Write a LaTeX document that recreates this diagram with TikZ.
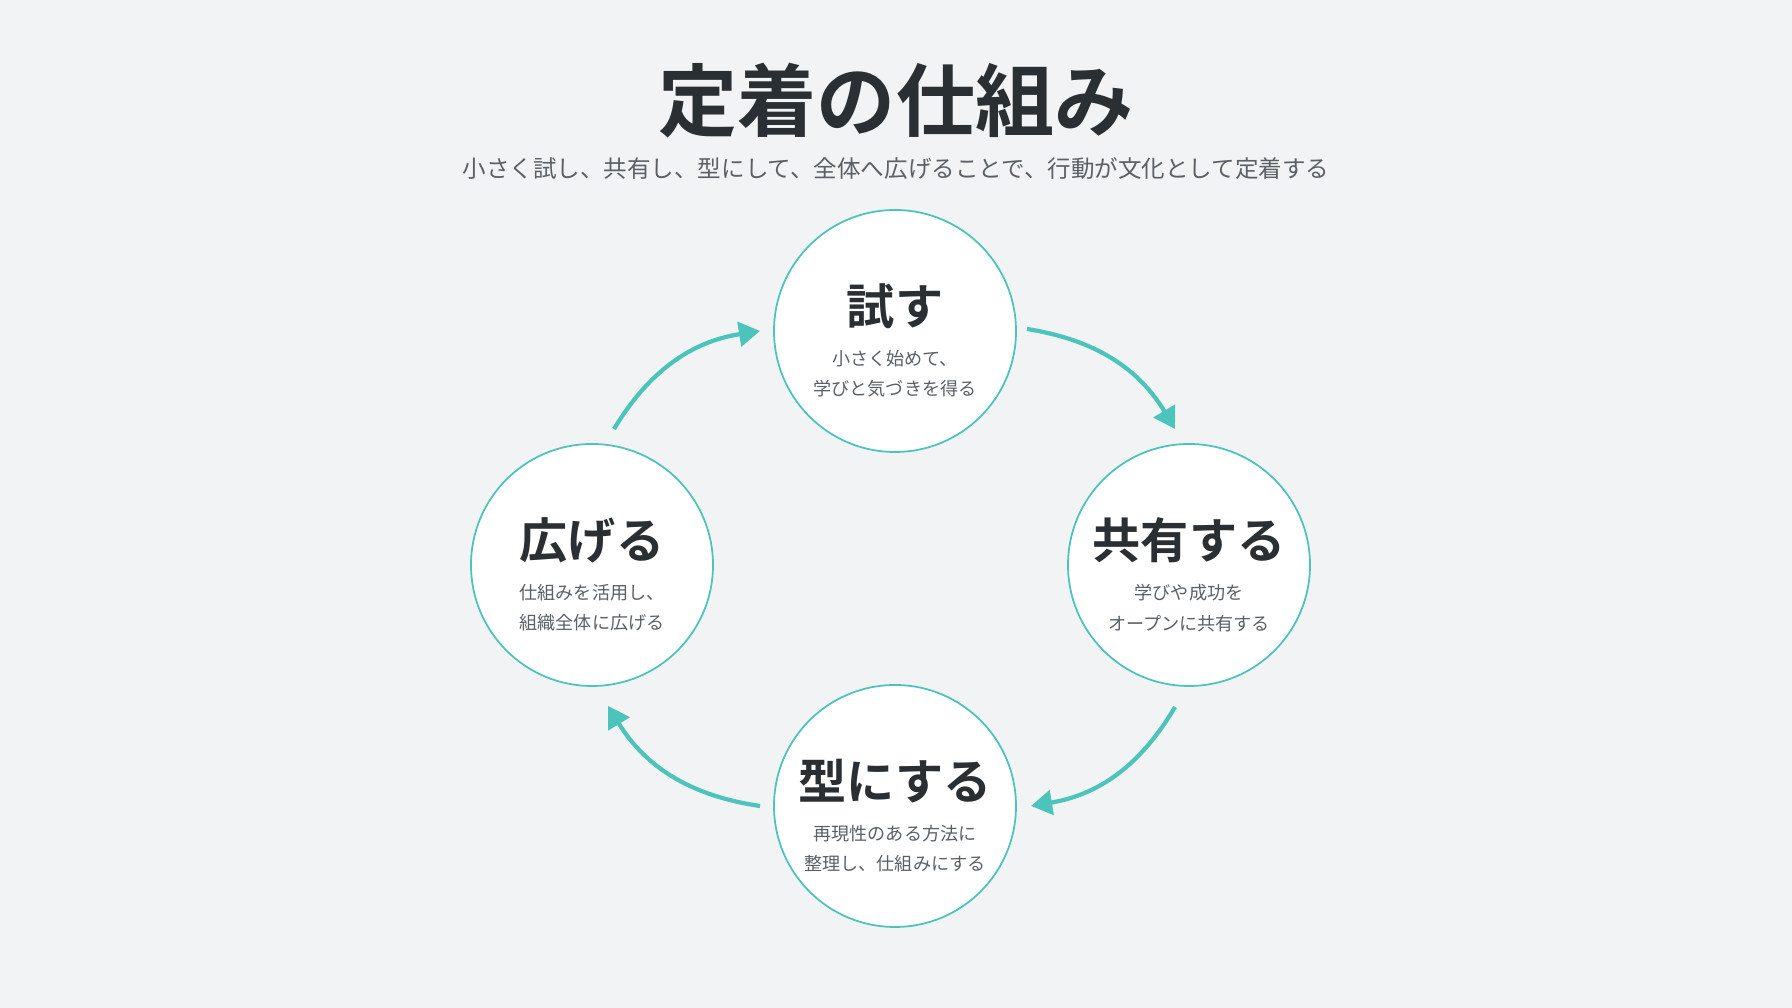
\documentclass[tikz,border=0pt]{standalone}
\usepackage{fontspec}
\newfontfamily\jp{Noto Sans CJK JP}
\newfontfamily\jpb{Noto Sans CJK JP Bold}
\usetikzlibrary{arrows.meta}
\definecolor{bgc}{HTML}{F1F3F4}
\definecolor{teal}{HTML}{4CC4BC}
\definecolor{ink}{HTML}{2A2F33}
\definecolor{sub}{HTML}{5A6066}
\tikzset{
  stage/.style={circle,draw=teal,line width=0.5pt,fill=white,minimum size=2.42cm,inner sep=0pt},
  head/.style={font=\jpb\fontsize{13.7}{15}\selectfont,text=ink},
  note/.style={font=\jp\fontsize{5.15}{8.6}\selectfont,text=sub,align=center},
  flow/.style={draw=teal,line width=1.2pt,-{Triangle[length=6pt,width=7pt]}}
}
\begin{document}
\begin{tikzpicture}
  \fill[bgc] (0,0) rectangle (17.92,10.08);
  \useasboundingbox (0,0) rectangle (17.92,10.08);
  \node[font=\jpb\fontsize{22.5}{24}\selectfont,text=ink] (title) at (8.96,9.07) {定着の仕組み};
  \node[font=\jp\fontsize{6.7}{8}\selectfont,text=sub] (subtitle) at (8.96,8.39) {小さく試し、共有し、型にして、全体へ広げることで、行動が文化として定着する};
  \begin{scope}
    \node[stage] (try) at (8.95,6.77) {};
    \node[stage] (share) at (11.89,4.43) {};
    \node[stage] (form) at (8.95,2.02) {};
    \node[stage] (spread) at (5.92,4.43) {};
  \end{scope}
  \node[head] (tryh) at (8.95,7.02) {試す};
  \node[note] (tryn) at (8.95,6.34) {小さく始めて、\\学びと気づきを得る};
  \node[head] (shareh) at (11.89,4.68) {共有する};
  \node[note] (sharen) at (11.89,4.00) {学びや成功を\\オープンに共有する};
  \node[head] (formh) at (8.95,2.27) {型にする};
  \node[note] (formn) at (8.95,1.59) {再現性のある方法に\\整理し、仕組みにする};
  \node[head] (spreadh) at (5.92,4.68) {広げる};
  \node[note] (spreadn) at (5.92,4.00) {仕組みを活用し、\\組織全体に広げる};
  \coordinate (a1) at (10.27,6.79);
  \coordinate (a2) at (11.75,5.79);
  \coordinate (b1) at (11.75,3.01);
  \coordinate (b2) at (10.31,2.02);
  \coordinate (c1) at (7.60,2.02);
  \coordinate (c2) at (6.08,3.02);
  \coordinate (d1) at (6.14,5.79);
  \coordinate (d2) at (7.60,6.77);
  \path[flow] (a1) to[bend left=25] (a2);
  \path[flow] (b1) to[bend left=25] (b2);
  \path[flow] (c1) to[bend left=25] (c2);
  \path[flow] (d1) to[bend left=25] (d2);
\end{tikzpicture}
\end{document}
